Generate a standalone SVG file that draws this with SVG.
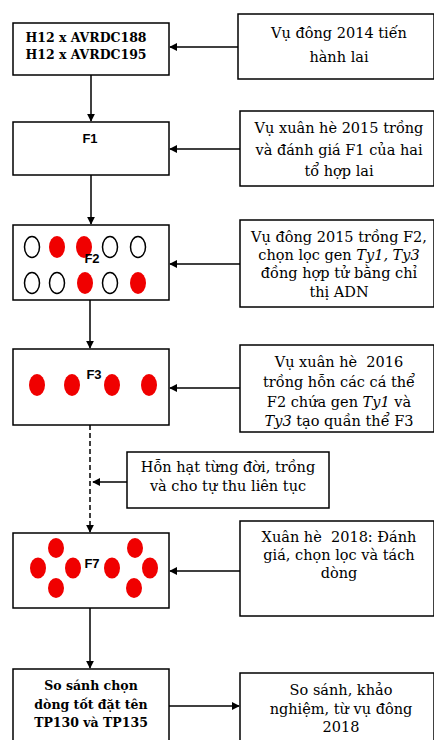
<svg xmlns="http://www.w3.org/2000/svg" width="434" height="740" viewBox="0 0 434 740">
<defs>
<marker id="ah" viewBox="0 0 10 10" refX="9" refY="5" markerWidth="8" markerHeight="8" markerUnits="userSpaceOnUse" orient="auto"><path d="M0,0 L10,5 L0,10 z" fill="#000"/></marker>
<style>
.box{fill:#fff;stroke:#000;stroke-width:1.5}
.t{font-family:"DejaVu Serif","Liberation Serif",serif;font-size:14.5px;fill:#000;text-anchor:middle}
.b{font-family:"DejaVu Serif","Liberation Serif",serif;font-size:12.5px;font-weight:bold;fill:#000;text-anchor:middle}
.f{font-family:"Liberation Sans",Arial,sans-serif;font-size:13px;font-weight:bold;fill:#000;text-anchor:middle}
.c{stroke:#000;stroke-width:1.5;fill:none;marker-end:url(#ah)}
.r{fill:#f00000}
.o{fill:#fff;stroke:#000;stroke-width:1.5}
</style>
</defs>
<rect width="434" height="740" fill="#fff"/>
<g id="connectors">
<line class="c" x1="238" y1="47" x2="170" y2="47"/>
<line class="c" x1="91" y1="75" x2="91" y2="121"/>
<line class="c" x1="240" y1="149" x2="170" y2="149"/>
<line class="c" x1="91" y1="175" x2="91" y2="224"/>
<line class="c" x1="240" y1="264" x2="170" y2="264"/>
<line class="c" x1="90" y1="300" x2="90" y2="348"/>
<line class="c" x1="240" y1="388" x2="170" y2="388"/>
<line class="c" x1="90" y1="425" x2="90" y2="532" stroke-dasharray="5,3"/>
<line class="c" x1="127" y1="482" x2="93" y2="482"/>
<line class="c" x1="240" y1="571" x2="170" y2="571"/>
<line class="c" x1="90" y1="608" x2="90" y2="668"/>
<line class="c" x1="169" y1="706" x2="239" y2="706"/>
</g>
<g id="cross">
<rect class="box" x="13" y="23" width="156" height="52"/>
<text class="b" x="86" y="42">H12 x AVRDC188</text>
<text class="b" x="86" y="59">H12 x AVRDC195</text>
</g>
<g id="note2014">
<rect class="box" x="238" y="14" width="196" height="65"/>
<text class="t" x="339" y="38">Vụ đông 2014 tiến</text>
<text class="t" x="339" y="62">hành lai</text>
</g>
<g id="f1">
<rect class="box" x="13" y="122" width="156" height="53"/>
<text class="f" x="90" y="143">F1</text>
</g>
<g id="note2015xh">
<rect class="box" x="240" y="111" width="194" height="75"/>
<text class="t" x="339" y="133">Vụ xuân hè 2015 trồng</text>
<text class="t" x="339" y="155">và đánh giá F1 của hai</text>
<text class="t" x="339" y="176">tổ hợp lai</text>
</g>
<g id="f2">
<rect class="box" x="13" y="225" width="156" height="75"/>
<ellipse class="o" cx="32" cy="247" rx="7.5" ry="10.5"/>
<ellipse class="r" cx="57" cy="247" rx="8" ry="11"/>
<ellipse class="r" cx="84" cy="247" rx="8" ry="11"/>
<ellipse class="o" cx="110" cy="247" rx="7.5" ry="10.5"/>
<ellipse class="o" cx="138" cy="247" rx="7.5" ry="10.5"/>
<ellipse class="o" cx="32" cy="283" rx="7.5" ry="10.5"/>
<ellipse class="o" cx="57" cy="283" rx="7.5" ry="10.5"/>
<ellipse class="r" cx="85" cy="283" rx="8" ry="11"/>
<ellipse class="o" cx="110" cy="283" rx="7.5" ry="10.5"/>
<ellipse class="r" cx="138" cy="283" rx="8" ry="11"/>
<text class="f" x="92" y="263">F2</text>
</g>
<g id="note2015d">
<rect class="box" x="240" y="220" width="194" height="87"/>
<text class="t" x="339" y="242">Vụ đông 2015 trồng F2,</text>
<text class="t" x="339" y="260">chọn lọc gen <tspan font-style="italic">Ty1, Ty3</tspan></text>
<text class="t" x="339" y="278">đồng hợp tử bằng chỉ</text>
<text class="t" x="339" y="297">thị ADN</text>
</g>
<g id="f3">
<rect class="box" x="13" y="349" width="156" height="76"/>
<ellipse class="r" cx="37" cy="385" rx="8" ry="11"/>
<ellipse class="r" cx="72" cy="385" rx="8" ry="11"/>
<ellipse class="r" cx="112" cy="385" rx="8" ry="11"/>
<ellipse class="r" cx="149" cy="385" rx="8" ry="11"/>
<text class="f" x="94" y="379">F3</text>
</g>
<g id="note2016">
<rect class="box" x="240" y="345" width="194" height="87"/>
<text class="t" x="339" y="367">Vụ xuân hè &#160;2016</text>
<text class="t" x="339" y="387">trồng hỗn các cá thể</text>
<text class="t" x="339" y="407">F2 chứa gen <tspan font-style="italic">Ty1</tspan> và</text>
<text class="t" x="339" y="426"><tspan font-style="italic">Ty3</tspan> tạo quần thể F3</text>
</g>
<g id="mix">
<rect class="box" x="127" y="452" width="202" height="56"/>
<text class="t" x="228" y="472">Hỗn hạt từng đời, trồng</text>
<text class="t" x="228" y="491">và cho tự thu liên tục</text>
</g>
<g id="f7">
<rect class="box" x="13" y="533" width="156" height="75"/>
<ellipse class="r" cx="56" cy="548" rx="8" ry="10"/>
<ellipse class="r" cx="38" cy="568" rx="8" ry="10.5"/>
<ellipse class="r" cx="73" cy="568" rx="8" ry="10.5"/>
<ellipse class="r" cx="56" cy="588" rx="8" ry="10"/>
<ellipse class="r" cx="135" cy="548" rx="8" ry="10"/>
<ellipse class="r" cx="112" cy="568" rx="8" ry="10.5"/>
<ellipse class="r" cx="150" cy="568" rx="8" ry="10.5"/>
<ellipse class="r" cx="134" cy="588" rx="8" ry="10"/>
<text class="f" x="92" y="568">F7</text>
</g>
<g id="note2018">
<rect class="box" x="240" y="521" width="194" height="95"/>
<text class="t" x="339" y="542">Xuân hè &#160;2018: Đánh</text>
<text class="t" x="339" y="560">giá, chọn lọc và tách</text>
<text class="t" x="339" y="578">dòng</text>
</g>
<g id="select">
<rect class="box" x="13" y="669" width="156" height="80"/>
<text class="b" x="91" y="690">So sánh chọn</text>
<text class="b" x="91" y="709">dòng tốt đặt tên</text>
<text class="b" x="91" y="727">TP130 và TP135</text>
</g>
<g id="trial">
<rect class="box" x="240" y="673" width="194" height="76"/>
<text class="t" x="341" y="695">So sánh, khảo</text>
<text class="t" x="341" y="714">nghiệm, từ vụ đông</text>
<text class="t" x="341" y="732">2018</text>
</g>
</svg>
